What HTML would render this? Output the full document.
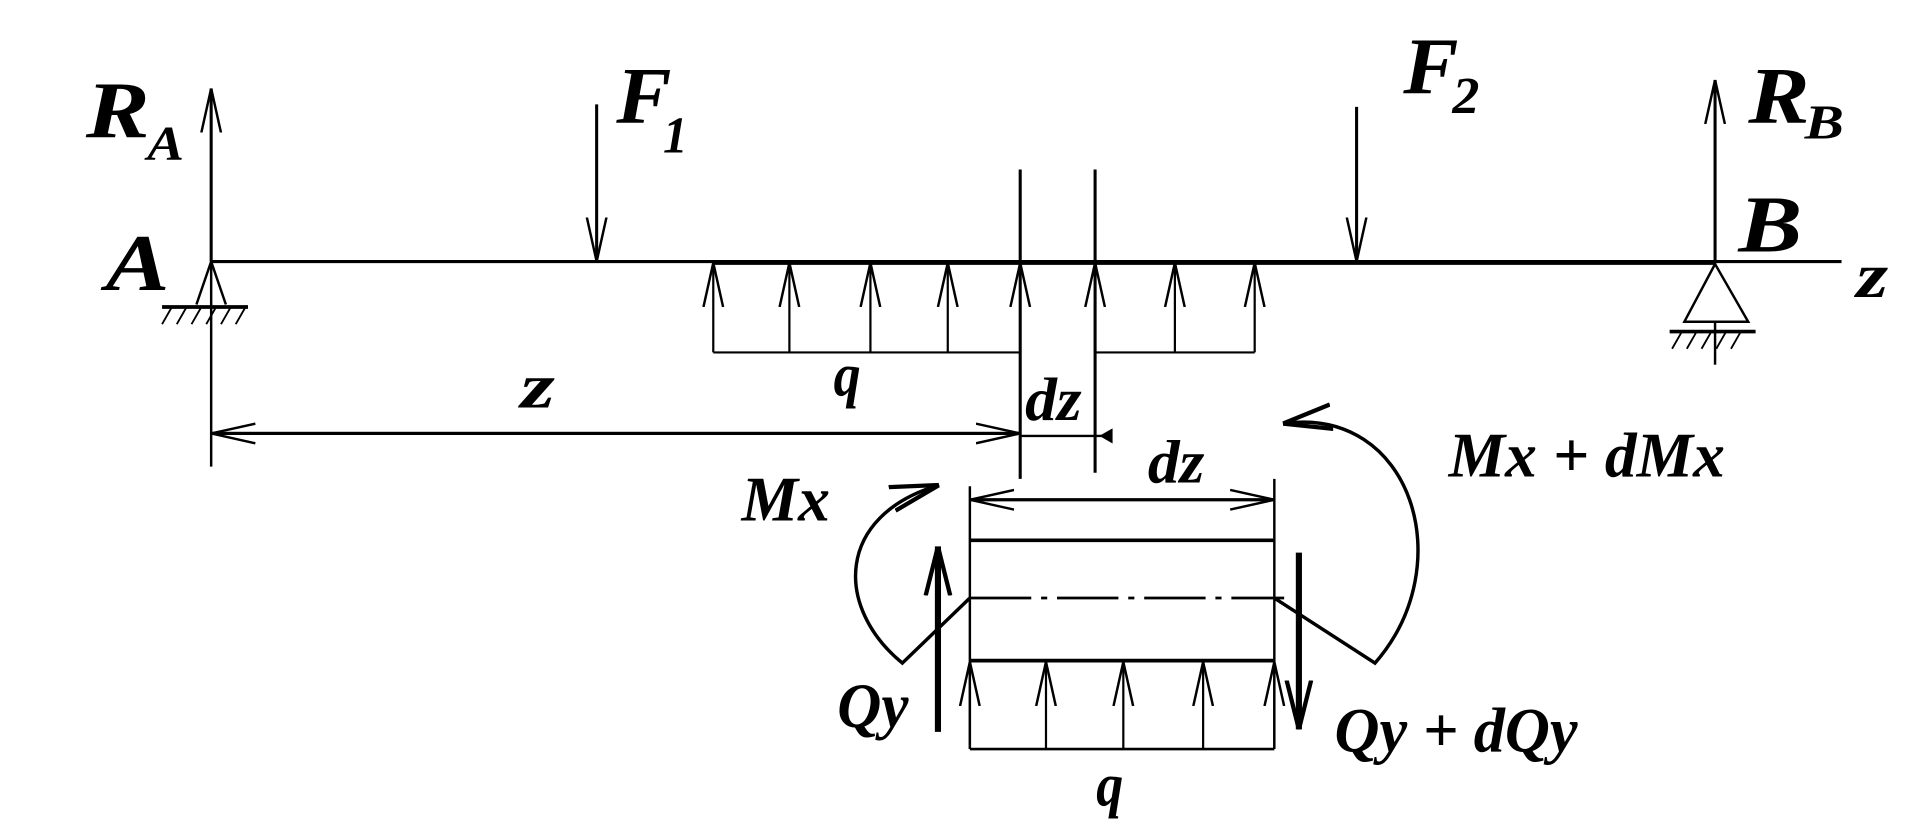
<!DOCTYPE html>
<html><head><style>html,body{margin:0;padding:0;background:#fff}svg{display:block}
.t{font-family:"Liberation Serif","Times New Roman",serif;font-weight:bold;font-style:italic}</style></head>
<body>
<svg width="1925" height="835" viewBox="0 0 1568 680" preserveAspectRatio="none" xmlns="http://www.w3.org/2000/svg">
<defs>
<marker id="b" viewBox="0 0 36 20" refX="36" refY="10" markerWidth="36" markerHeight="20" markerUnits="userSpaceOnUse" orient="auto"><path d="M0,2 L36,10 L0,18" fill="none" stroke="#000" stroke-width="2"/></marker>
<marker id="c" viewBox="0 0 40 24" refX="40" refY="12" markerWidth="40" markerHeight="24" markerUnits="userSpaceOnUse" orient="auto"><path d="M0,2 L40,12 L0,22" fill="none" stroke="#000" stroke-width="3.5"/></marker>
</defs>
<g stroke="#000" fill="none" stroke-width="2.5">
<line x1="172" y1="213" x2="1500" y2="213"/>
<line x1="580" y1="214" x2="1398" y2="214" stroke-width="3.5"/>
<line x1="172" y1="213" x2="172" y2="72" stroke-width="2.5" marker-end="url(#b)"/>
<line x1="172" y1="213" x2="172" y2="380" stroke-width="2"/>
<path d="M172,213 L160,248 M172,213 L184,248" stroke-width="2"/>
<line x1="132" y1="250" x2="202" y2="250" stroke-width="3"/>
<path d="M140,250 l-8,14 M152,250 l-8,14 M164,250 l-8,14 M176,250 l-8,14 M188,250 l-8,14 M200,250 l-8,14" stroke-width="1.5"/>
<line x1="486" y1="85" x2="486" y2="213" marker-end="url(#b)"/>
<line x1="1105" y1="87" x2="1105" y2="213" marker-end="url(#b)"/>
<line x1="1397" y1="213" x2="1397" y2="65" stroke-width="2.5" marker-end="url(#b)"/>
<path d="M1397,215 L1372,262 L1424,262 Z" stroke-width="2"/>
<line x1="1360" y1="270" x2="1430" y2="270" stroke-width="3"/>
<path d="M1370,270 l-8,14 M1382,270 l-8,14 M1394,270 l-8,14 M1406,270 l-8,14 M1418,270 l-8,14" stroke-width="1.5"/>
<line x1="1397" y1="262" x2="1397" y2="297" stroke-width="2"/>
<line x1="831" y1="138" x2="831" y2="390"/>
<line x1="892" y1="138" x2="892" y2="385"/>
<g stroke-width="1.8">
<line x1="581" y1="287" x2="831" y2="287"/>
<line x1="892" y1="287" x2="1022" y2="287"/>
<line x1="581" y1="287" x2="581" y2="214" marker-end="url(#b)"/>
<line x1="643" y1="287" x2="643" y2="214" marker-end="url(#b)"/>
<line x1="709" y1="287" x2="709" y2="214" marker-end="url(#b)"/>
<line x1="772" y1="287" x2="772" y2="214" marker-end="url(#b)"/>
<line x1="831" y1="287" x2="831" y2="214" marker-end="url(#b)"/>
<line x1="892" y1="287" x2="892" y2="214" marker-end="url(#b)"/>
<line x1="957" y1="287" x2="957" y2="214" marker-end="url(#b)"/>
<line x1="1022" y1="287" x2="1022" y2="214" marker-end="url(#b)"/>
</g>
<line x1="831" y1="353" x2="172" y2="353" marker-end="url(#b)"/>
<line x1="172" y1="353" x2="831" y2="353" marker-end="url(#b)"/>
<line x1="831" y1="355" x2="905" y2="355" stroke-width="2"/>
<path d="M905,351 L898,355 L905,359 Z" fill="#000"/>
<line x1="790" y1="396" x2="790" y2="610" stroke-width="2"/>
<line x1="1038" y1="390" x2="1038" y2="610" stroke-width="2"/>
<line x1="1038" y1="407" x2="790" y2="407" marker-end="url(#b)"/>
<line x1="790" y1="407" x2="1038" y2="407" marker-end="url(#b)"/>
<line x1="790" y1="440" x2="1038" y2="440" stroke-width="3"/>
<line x1="790" y1="487" x2="1046" y2="487" stroke-width="2.2" stroke-dasharray="50,8,5,8"/>
<line x1="790" y1="538" x2="1038" y2="538" stroke-width="3"/>
<line x1="790" y1="610" x2="1038" y2="610" stroke-width="2.2"/>
<g stroke-width="1.8">
<line x1="790" y1="610" x2="790" y2="539" marker-end="url(#b)"/>
<line x1="852" y1="610" x2="852" y2="539" marker-end="url(#b)"/>
<line x1="915" y1="610" x2="915" y2="539" marker-end="url(#b)"/>
<line x1="980" y1="610" x2="980" y2="539" marker-end="url(#b)"/>
<line x1="1038" y1="610" x2="1038" y2="539" marker-end="url(#b)"/>
</g>
<line x1="764" y1="596" x2="764" y2="445" stroke-width="5" marker-end="url(#c)"/>
<line x1="1058" y1="450" x2="1058" y2="594" stroke-width="5" marker-end="url(#c)"/>
<path d="M790,487 L735,540 C680,495 680,420 765,395" stroke-width="2.8" marker-end="url(#c)"/>
<path d="M1038,487 L1120,540 C1190,460 1150,330 1045,345" stroke-width="2.8" marker-end="url(#c)"/>
</g>
<g class="t" fill="#000">
<text x="70" y="112" font-size="66" textLength="52" lengthAdjust="spacingAndGlyphs">R</text>
<text x="120" y="130" font-size="40" textLength="30" lengthAdjust="spacingAndGlyphs">A</text>
<text x="86" y="236" font-size="66" textLength="52" lengthAdjust="spacingAndGlyphs">A</text>
<text x="502" y="100" font-size="66" textLength="45" lengthAdjust="spacingAndGlyphs">F</text>
<text x="540" y="124" font-size="42" textLength="20" lengthAdjust="spacingAndGlyphs">1</text>
<text x="1143" y="76" font-size="66" textLength="45" lengthAdjust="spacingAndGlyphs">F</text>
<text x="1183" y="92" font-size="42" textLength="22" lengthAdjust="spacingAndGlyphs">2</text>
<text x="1424" y="100" font-size="66" textLength="50" lengthAdjust="spacingAndGlyphs">R</text>
<text x="1470" y="113" font-size="40" textLength="32" lengthAdjust="spacingAndGlyphs">B</text>
<text x="1416" y="205" font-size="66" textLength="52" lengthAdjust="spacingAndGlyphs">B</text>
<text x="1512" y="242" font-size="52" textLength="26" lengthAdjust="spacingAndGlyphs">z</text>
<text x="424" y="332" font-size="52" textLength="28" lengthAdjust="spacingAndGlyphs">z</text>
<text x="679" y="322" font-size="50" textLength="22" lengthAdjust="spacingAndGlyphs">q</text>
<text x="835" y="342" font-size="50" textLength="46" lengthAdjust="spacingAndGlyphs">dz</text>
<text x="935" y="393" font-size="50" textLength="46" lengthAdjust="spacingAndGlyphs">dz</text>
<text x="604" y="424" font-size="52" textLength="72" lengthAdjust="spacingAndGlyphs">Mx</text>
<text x="1180" y="388" font-size="52" textLength="225" lengthAdjust="spacingAndGlyphs">Mx + dMx</text>
<text x="682" y="592" font-size="52" textLength="58" lengthAdjust="spacingAndGlyphs">Qy</text>
<text x="1087" y="612" font-size="52" textLength="198" lengthAdjust="spacingAndGlyphs">Qy + dQy</text>
<text x="893" y="656" font-size="50" textLength="22" lengthAdjust="spacingAndGlyphs">q</text>
</g>
</svg>
</body></html>
